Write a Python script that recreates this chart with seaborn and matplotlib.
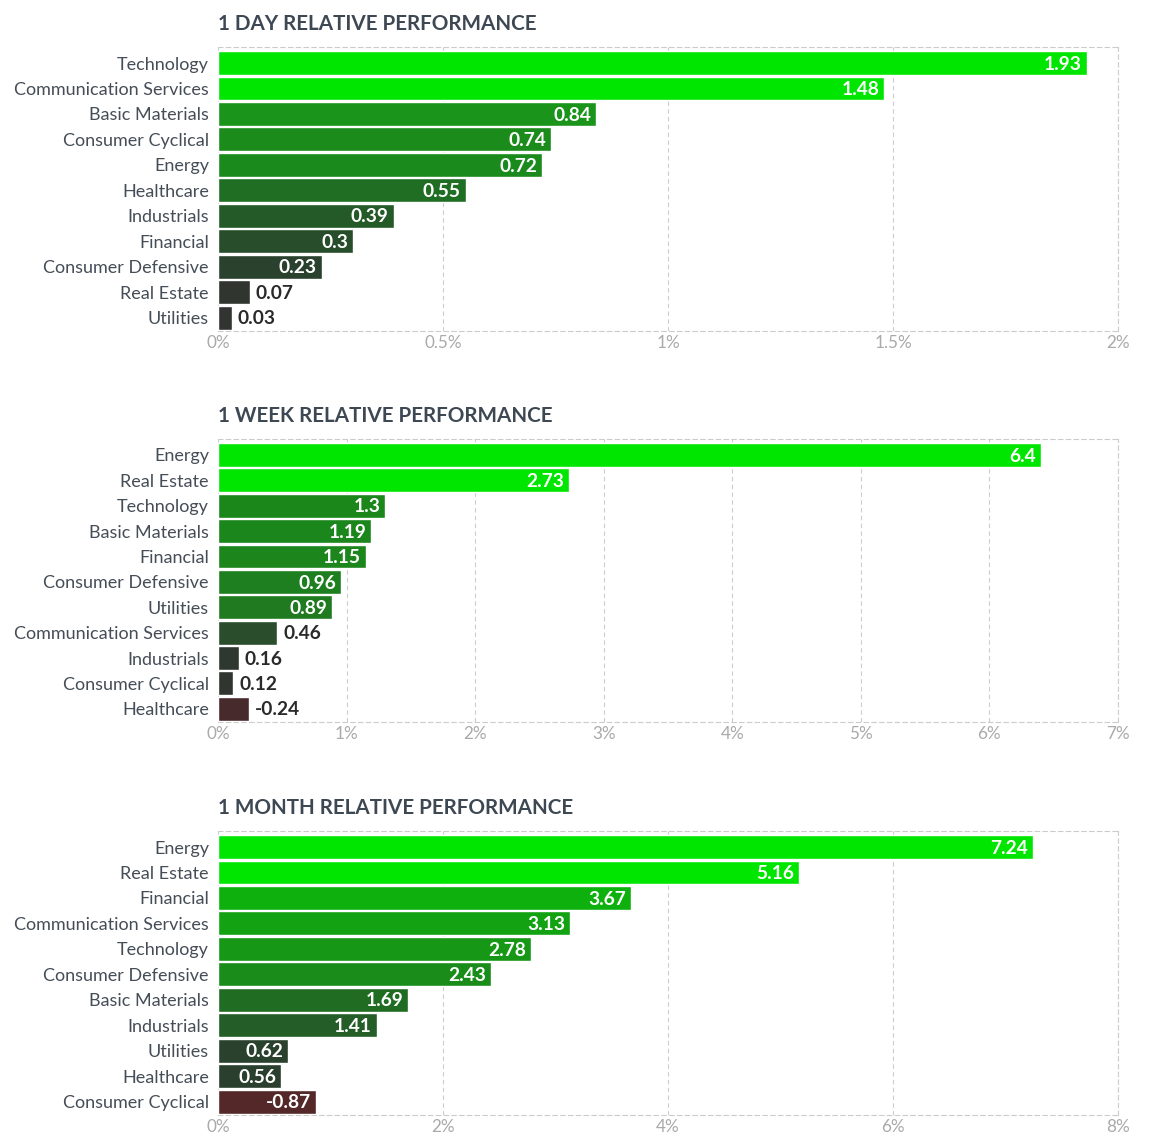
import matplotlib
matplotlib.use("Agg")
import matplotlib.pyplot as plt
import seaborn as sns
import pandas as pd

# 1 day
day_sectors = ["Technology", "Communication Services", "Basic Materials", "Consumer Cyclical",
               "Energy", "Healthcare", "Industrials", "Financial", "Consumer Defensive",
               "Real Estate", "Utilities"]
day_values = [1.93, 1.48, 0.84, 0.74, 0.72, 0.55, 0.39, 0.3, 0.23, 0.07, 0.03]
day_ticks = [0, 0.5, 1, 1.5, 2]

# 1 week
week_sectors = ["Energy", "Real Estate", "Technology", "Basic Materials", "Financial",
                "Consumer Defensive", "Utilities", "Communication Services", "Industrials",
                "Consumer Cyclical", "Healthcare"]
week_values = [6.4, 2.73, 1.3, 1.19, 1.15, 0.96, 0.89, 0.46, 0.16, 0.12, -0.24]
week_ticks = [0, 1, 2, 3, 4, 5, 6, 7]

# 1 month
month_sectors = ["Energy", "Real Estate", "Financial", "Communication Services", "Technology",
                 "Consumer Defensive", "Basic Materials", "Industrials", "Utilities",
                 "Healthcare", "Consumer Cyclical"]
month_values = [7.24, 5.16, 3.67, 3.13, 2.78, 2.43, 1.69, 1.41, 0.62, 0.56, -0.87]
month_ticks = [0, 2, 4, 6, 8]

# bar colours
day_colors = ["#00e600", "#00e600", "#1a941a", "#1b8c1b", "#1b8a1c", "#206e23",
              "#245a27", "#274d2a", "#2a422d", "#303530", "#313431"]
week_colors = ["#00e600", "#00e600", "#1b871b", "#1b861b", "#1c851c", "#1d7f1f",
               "#1f7a20", "#2a4d2c", "#2f3830", "#303530", "#472a2c"]
month_colors = ["#00e600", "#00e600", "#0db00d", "#12a212", "#169716", "#1a8c1a",
                "#216c23", "#245d27", "#2a412d", "#2a3f2d", "#542828"]

panels = [
    ("1 DAY RELATIVE PERFORMANCE", day_sectors, day_values, day_ticks, day_colors, 47, 331),
    ("1 WEEK RELATIVE PERFORMANCE", week_sectors, week_values, week_ticks, week_colors, 439, 722),
    ("1 MONTH RELATIVE PERFORMANCE", month_sectors, month_values, month_ticks, month_colors, 831, 1115),
]

sns.set_theme(style="white")
plt.rcParams["font.family"] = ["Lato", "DejaVu Sans"]

W, H = 1161, 1147
fig = plt.figure(figsize=(W / 100, H / 100), dpi=100)

GRID = "#cccccc"
LABEL = "#454d57"
TITLE = "#3e4853"


def fmt_tick(t):
    return ("%g" % t) + "%"


for title, sectors, values, ticks, colors, top, bottom in panels:
    ax = fig.add_axes([218 / W, 1 - bottom / H, 900 / W, (bottom - top) / H])
    df = pd.DataFrame({"sector": sectors, "length": [abs(v) for v in values]})
    sns.barplot(data=df, x="length", y="sector", hue="sector", palette=colors,
                order=sectors, legend=False, width=0.94, saturation=1, ax=ax,
                orient="h", zorder=3)
    ax.set_xlim(ticks[0], ticks[-1])
    ax.set_ylim(10.52, -0.63)
    ax.set_xticks(ticks)
    ax.set_xticklabels([fmt_tick(t) for t in ticks], color="#aaaaaa", fontsize=12.3)
    ax.tick_params(axis="x", length=0, pad=3)
    ax.tick_params(axis="y", length=0, pad=6.5, labelsize=13, labelcolor=LABEL)
    ax.set_xlabel("")
    ax.set_ylabel("")
    ax.grid(axis="x", color=GRID, linestyle=(0, (4, 3)), linewidth=0.8, zorder=0)
    ax.grid(axis="y", visible=False)
    for sp in ax.spines.values():
        sp.set_visible(True)
        sp.set_color(GRID)
        sp.set_linestyle((0, (4, 3)))
        sp.set_linewidth(0.8)
    ax.spines["left"].set_visible(False)

    px_per_unit = 900 / (ticks[-1] - ticks[0])
    for i, (v, c) in enumerate(zip(values, colors)):
        L = abs(v)
        txt = "%g" % v
        if L * px_per_unit >= 60:
            ax.annotate(txt, (L, i), xytext=(-3.5, -0.8), textcoords="offset points",
                        ha="right", va="center", color="white", fontsize=13.8,
                        fontweight="bold", zorder=5)
        else:
            ax.annotate(txt, (L, i), xytext=(4.5, -0.8), textcoords="offset points",
                        ha="left", va="center", color="#2a2a2a", fontsize=13.8,
                        fontweight="bold", zorder=5)

    fig.text(218 / W, 1 - (top - 23) / H, title, ha="left", va="center",
             fontsize=14.9, fontweight="bold", color=TITLE)

fig.savefig("out.png", dpi=100)
